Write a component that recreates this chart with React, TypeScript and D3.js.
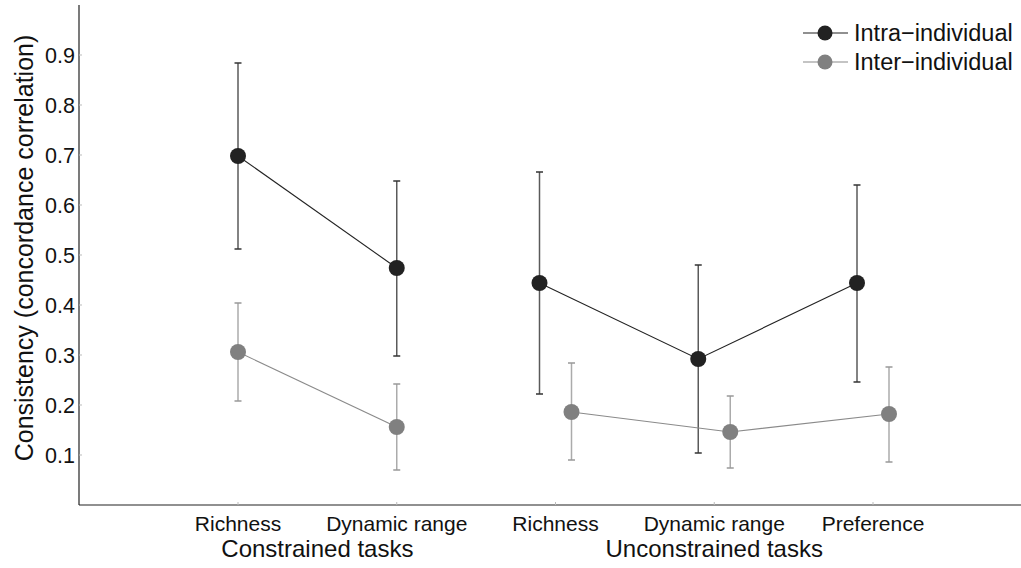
import React from "react";
import * as d3 from "d3";

// Task categories along the x axis and the task group each belongs to
const categories = ["Richness", "Dynamic range", "Richness", "Dynamic range", "Preference"];
const groupNames = ["Constrained tasks", "Unconstrained tasks"];
const groupOf = [0, 0, 1, 1, 1];
// horizontal dodge of the two series within each group (px)
const groupDodge = [0, 16];

// Intra-individual consistency: mean and interval bounds
const intraMean = [0.698, 0.474, 0.444, 0.292, 0.444];
const intraLow = [0.512, 0.298, 0.222, 0.104, 0.246];
const intraHigh = [0.884, 0.648, 0.666, 0.48, 0.64];

// Inter-individual consistency: mean and interval bounds
const interMean = [0.306, 0.156, 0.186, 0.146, 0.182];
const interLow = [0.208, 0.07, 0.09, 0.074, 0.086];
const interHigh = [0.404, 0.242, 0.284, 0.218, 0.276];

const yTicks = [0.1, 0.2, 0.3, 0.4, 0.5, 0.6, 0.7, 0.8, 0.9];

const W = 1021;
const H = 568;
const FONT = "'Liberation Sans', Arial, Helvetica, sans-serif";

const series = [
  { name: "Intra\u2212individual", mean: intraMean, low: intraLow, high: intraHigh, side: -1, color: "#222222", bar: "#5a5a5a", cap: "#333333", line: "#222222" },
  { name: "Inter\u2212individual", mean: interMean, low: interLow, high: interHigh, side: 1, color: "#808080", bar: "#ababab", cap: "#999999", line: "#8a8a8a" },
];

export default function App() {
  const axisX = 79;
  const axisY = 505;
  const y = d3.scaleLinear().domain([0, 1]).range([505, 5]);
  const keys = categories.map((_, i) => String(i));
  const x = d3.scalePoint<string>().domain(keys).range([238, 873]);

  const px = (i: number, side: number) => (x(String(i)) as number) + side * groupDodge[groupOf[i]];

  const lineGen = d3
    .line<number>()
    .x((d) => d);

  return (
    <svg
      width={W}
      height={H}
      style={{ position: "absolute", left: 0, top: 0, background: "#fff" }}
      fontFamily={FONT}
    >
      {/* axes */}
      <line x1={axisX} y1={5} x2={axisX} y2={axisY} stroke="#222" strokeWidth={1.2} />
      <line x1={axisX} y1={axisY} x2={W} y2={axisY} stroke="#222" strokeWidth={1.2} />

      {/* y ticks and labels */}
      {yTicks.map((t) => (
        <g key={t}>
          <line x1={axisX} x2={axisX + 3} y1={y(t)} y2={y(t)} stroke="#bbb" strokeWidth={1} />
          <text x={75} y={y(t)} dy="0.36em" textAnchor="end" fontSize={21.5} fill="#111">
            {d3.format(".1f")(t)}
          </text>
        </g>
      ))}

      {/* y axis title */}
      <text
        transform={`translate(33, 248) rotate(-90)`}
        textAnchor="middle"
        fontSize={25}
        fill="#111"
      >
        Consistency (concordance correlation)
      </text>

      {/* x ticks and category labels */}
      {categories.map((c, i) => (
        <g key={i}>
          <line x1={x(String(i))} x2={x(String(i))} y1={axisY} y2={axisY - 3} stroke="#bbb" strokeWidth={1} />
          <text x={x(String(i))} y={531} textAnchor="middle" fontSize={21} fill="#111">
            {c}
          </text>
        </g>
      ))}

      {/* group labels */}
      {groupNames.map((g, gi) => {
        const idx = groupOf.map((v, i) => (v === gi ? i : -1)).filter((i) => i >= 0);
        const cx = d3.mean(idx.map((i) => x(String(i)) as number)) as number;
        return (
          <text key={g} x={cx} y={557} textAnchor="middle" fontSize={24} fill="#111">
            {g}
          </text>
        );
      })}

      {/* error bars */}
      {series.map((s) =>
        s.mean.map((_, i) => {
          const cx = px(i, s.side);
          return (
            <g key={s.name + i}>
              <line x1={cx} x2={cx} y1={y(s.low[i])} y2={y(s.high[i])} stroke={s.bar} strokeWidth={1.5} />
              <line x1={cx - 3.5} x2={cx + 3.5} y1={y(s.low[i])} y2={y(s.low[i])} stroke={s.cap} strokeWidth={1.5} />
              <line x1={cx - 3.5} x2={cx + 3.5} y1={y(s.high[i])} y2={y(s.high[i])} stroke={s.cap} strokeWidth={1.5} />
            </g>
          );
        })
      )}

      {/* connecting lines within each group */}
      {series.map((s) =>
        groupNames.map((_, gi) => {
          const idx = groupOf.map((v, i) => (v === gi ? i : -1)).filter((i) => i >= 0);
          const gen = d3
            .line<number>()
            .x((i) => px(i, s.side))
            .y((i) => y(s.mean[i]));
          return <path key={s.name + gi} d={gen(idx) || ""} fill="none" stroke={s.line} strokeWidth={1.1} />;
        })
      )}

      {/* markers */}
      {series.map((s) =>
        s.mean.map((m, i) => (
          <circle key={s.name + "m" + i} cx={px(i, s.side)} cy={y(m)} r={8} fill={s.color} />
        ))
      )}

      {/* legend */}
      {series.map((s, si) => {
        const ly = 33 + si * 29;
        return (
          <g key={s.name + "leg"}>
            <line x1={803} x2={848} y1={ly} y2={ly} stroke={s.line} strokeWidth={1.2} />
            <circle cx={825} cy={ly} r={7.5} fill={s.color} />
            <text x={854} y={ly} dy="0.36em" fontSize={23.5} fill="#111">
              {s.name}
            </text>
          </g>
        );
      })}
    </svg>
  );
}
